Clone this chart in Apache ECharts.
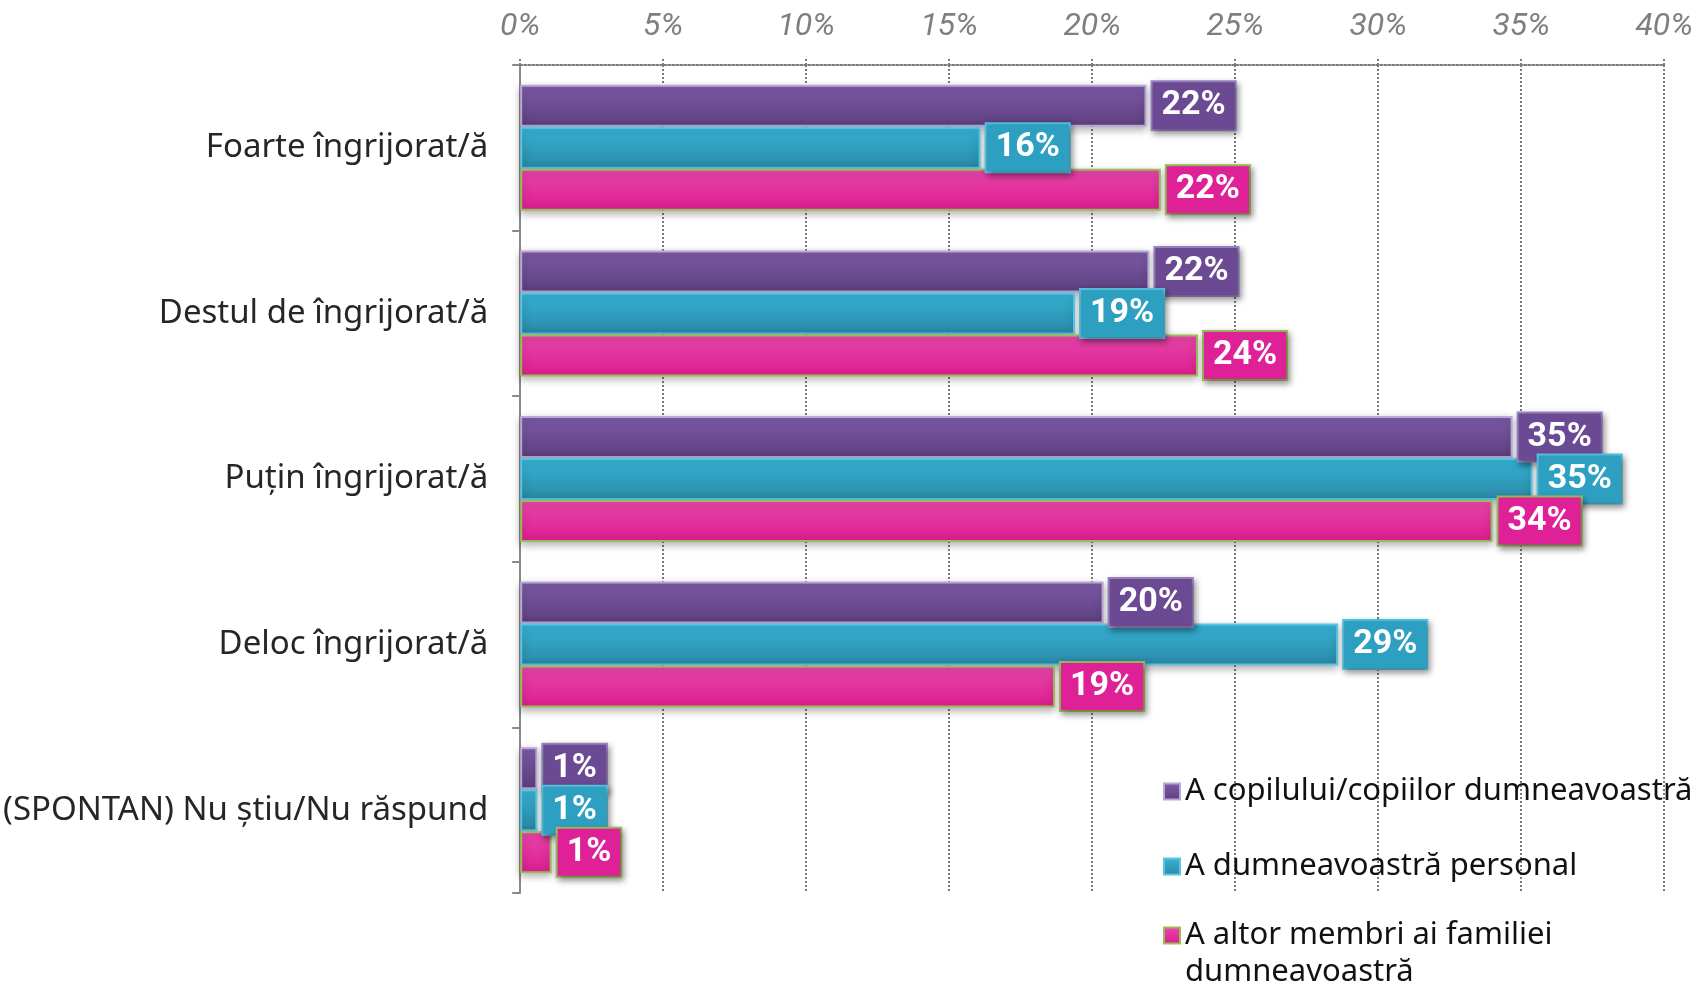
<!DOCTYPE html>
<html>
<head>
<meta charset="utf-8">
<script src="https://cdn.jsdelivr.net/npm/echarts@6/dist/echarts.min.js"></script>
</head>
<body style="margin:0; padding:0; background:#fff;">
<div id="chart" style="width:1696px; height:984px;"></div>
<script type="text/javascript">
// categories (top to bottom)
const categories = [
	'Foarte îngrijorat/ă',
	'Destul de îngrijorat/ă',
	'Puțin îngrijorat/ă',
	'Deloc îngrijorat/ă',
	'(SPONTAN) Nu știu/Nu răspund'
];
const seriesNames = [
	'A copilului/copiilor dumneavoastră',
	'A dumneavoastră personal',
	'A altor membri ai familiei dumneavoastră'
];
// values in %
const copii = [21.9, 22.0, 34.7, 20.4, 0.6];
const personal = [16.1, 19.4, 35.4, 28.6, 0.6];
const familie = [22.4, 23.7, 34.0, 18.7, 1.1];
const xTicks = { min: 0, max: 40, interval: 5 };

const labelFont = "'Liberation Sans Narrow', 'Roboto', sans-serif";
const textFont = "'Noto Sans', 'DejaVu Sans', sans-serif";
const gridColor = '#7a7a7a';

function grad(top, bottom) {
	return new echarts.graphic.LinearGradient(0, 0, 0, 1, [
		{ offset: 0, color: top },
		{ offset: 1, color: bottom }
	]);
}

function barSeries(name, data, top, bottom, border, boxColor, boxBorder) {
	return {
		name: name,
		type: 'bar',
		data: data,
		barWidth: 42,
		barGap: '0%',
		itemStyle: {
			color: grad(top, bottom),
			borderColor: border,
			borderWidth: 2,
			shadowBlur: 8,
			shadowOffsetY: 3,
			shadowColor: 'rgba(0,0,0,0.3)'
		},
		label: {
			show: true,
			position: 'right',
			distance: 6,
			formatter: p => Math.round(p.value) + '%',
			color: '#fff',
			fontWeight: 'bold',
			fontSize: 34,
			fontFamily: labelFont,
			backgroundColor: boxColor,
			borderColor: boxBorder,
			borderWidth: 2,
			padding: [7, 9, 6, 9],
			shadowBlur: 6,
			shadowOffsetX: 2,
			shadowOffsetY: 3,
			shadowColor: 'rgba(0,0,0,0.35)'
		}
	};
}

function legendItem(name, top, extra) {
	return Object.assign({
		orient: 'vertical',
		left: 1158,
		top: top,
		icon: 'rect',
		itemWidth: 16,
		itemHeight: 16,
		textStyle: { fontSize: 31, fontFamily: textFont, color: '#111', lineHeight: 37 },
		data: [name]
	}, extra || {});
}

const option = {
	animation: false,
	grid: { left: 519, right: 31, top: 65, bottom: 91 },
	legend: [
		legendItem(seriesNames[0], 768),
		legendItem(seriesNames[1], 843),
		// blank first line keeps the icon level with the first text line
		legendItem(seriesNames[2], 875, {
			formatter: () => ' \nA altor membri ai familiei\ndumneavoastră'
		})
	],
	xAxis: {
		type: 'value',
		position: 'top',
		min: xTicks.min,
		max: xTicks.max,
		interval: xTicks.interval,
		axisLine: { show: true, lineStyle: { color: gridColor, width: 2, type: 'dotted' } },
		axisTick: { show: true, length: 8, lineStyle: { color: gridColor, width: 2, type: 'dotted' } },
		splitLine: { show: true, lineStyle: { color: gridColor, width: 2, type: 'dotted' } },
		axisLabel: {
			formatter: '{value}%',
			fontStyle: 'italic',
			color: '#7f7f7f',
			fontSize: 32,
			fontFamily: labelFont,
			margin: 22
		}
	},
	yAxis: {
		type: 'category',
		inverse: true,
		data: categories,
		axisLine: { show: true, lineStyle: { color: '#888', width: 2 } },
		axisTick: { show: true, length: 8, lineStyle: { color: '#888', width: 2 } },
		axisLabel: { fontSize: 33, fontFamily: textFont, color: '#262626', margin: 32 }
	},
	series: [
		barSeries(seriesNames[0], copii, '#7f5ba9', '#5d3f7f', '#b9a7d4', '#6b4a93', '#9a85c2'),
		barSeries(seriesNames[1], personal, '#36b5d8', '#2a88a5', '#5bc4e0', '#2da0c2', '#58c0de'),
		barSeries(seriesNames[2], familie, '#e947ab', '#dc1c8f', '#9bbb59', '#de2196', '#9bbb59')
	]
};

var myChart = echarts.init(document.getElementById('chart'));
myChart.setOption(option);
window.onresize = function() { myChart.resize(); };
</script>
</body>
</html>
